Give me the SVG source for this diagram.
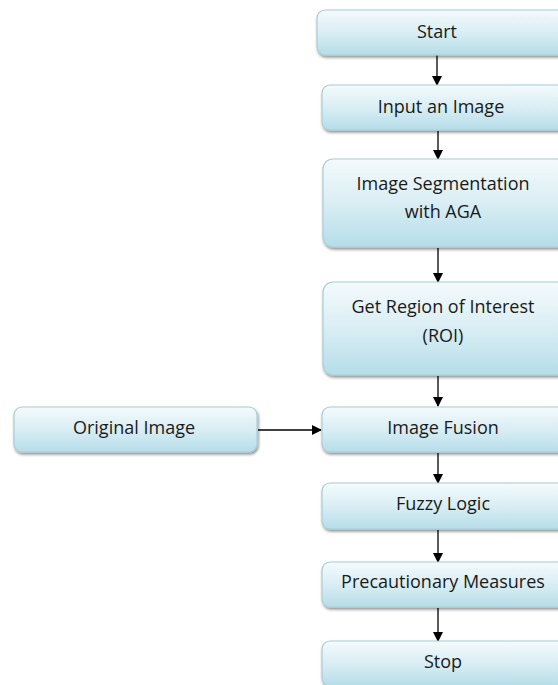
<svg xmlns="http://www.w3.org/2000/svg" width="558" height="685" viewBox="0 0 558 685">
<defs>
<linearGradient id="g" x1="0" y1="0" x2="0" y2="1">
<stop offset="0" stop-color="#f4fafc"/>
<stop offset="0.5" stop-color="#d9eef4"/>
<stop offset="1" stop-color="#b5dde8"/>
</linearGradient>
<filter id="sh" x="-10%" y="-20%" width="120%" height="150%">
<feGaussianBlur in="SourceAlpha" stdDeviation="1.5"/>
<feOffset dx="1" dy="2" result="b"/>
<feComponentTransfer><feFuncA type="linear" slope="0.45"/></feComponentTransfer>
<feMerge><feMergeNode/><feMergeNode in="SourceGraphic"/></feMerge>
</filter>
<marker id="ah" markerWidth="10" markerHeight="10" refX="9" refY="5" orient="auto" markerUnits="userSpaceOnUse">
<path d="M0,0 L10,5 L0,10 Z" fill="#000"/>
</marker>
</defs>
<style>
.box{fill:url(#g);stroke:#a9cdd8;stroke-width:1.2;filter:url(#sh)}
.t{font-family:"Open Sans","Liberation Sans",sans-serif;font-size:18px;fill:#1a1a1a;text-anchor:middle}
.c{stroke:#000;stroke-width:1.3;fill:none;marker-end:url(#ah)}
</style>
<g id="connectors">
<line class="c" x1="437" y1="55" x2="437" y2="85"/>
<line class="c" x1="438" y1="131" x2="438" y2="159"/>
<line class="c" x1="438" y1="248" x2="438" y2="282"/>
<line class="c" x1="438" y1="376" x2="438" y2="406"/>
<line class="c" x1="258" y1="430" x2="321" y2="430"/>
<line class="c" x1="438" y1="453" x2="438" y2="483"/>
<line class="c" x1="438" y1="530" x2="438" y2="562"/>
<line class="c" x1="438" y1="608" x2="438" y2="641"/>
</g>
<g id="start"><rect class="box" x="317" y="10" width="250" height="45" rx="8"/><text class="t" x="437" y="38">Start</text></g>
<g id="input"><rect class="box" x="322" y="85" width="245" height="45" rx="8"/><text class="t" x="441" y="113">Input an Image</text></g>
<g id="seg"><rect class="box" x="323" y="159" width="244" height="88" rx="10"/><text class="t" x="443" y="190">Image Segmentation</text><text class="t" x="443" y="218">with AGA</text></g>
<g id="roi"><rect class="box" x="323" y="282" width="244" height="93" rx="10"/><text class="t" x="443" y="313">Get Region of Interest</text><text class="t" x="443" y="342">(ROI)</text></g>
<g id="original"><rect class="box" x="14" y="407" width="243" height="45" rx="8"/><text class="t" x="134" y="434">Original Image</text></g>
<g id="fusion"><rect class="box" x="322" y="407" width="245" height="45" rx="8"/><text class="t" x="443" y="434">Image Fusion</text></g>
<g id="fuzzy"><rect class="box" x="322" y="483" width="245" height="46" rx="8"/><text class="t" x="443" y="510">Fuzzy Logic</text></g>
<g id="precaution"><rect class="box" x="322" y="562" width="245" height="45" rx="8"/><text class="t" x="443" y="588">Precautionary Measures</text></g>
<g id="stop"><rect class="box" x="322" y="641" width="245" height="45" rx="8"/><text class="t" x="443" y="668">Stop</text></g>
</svg>
